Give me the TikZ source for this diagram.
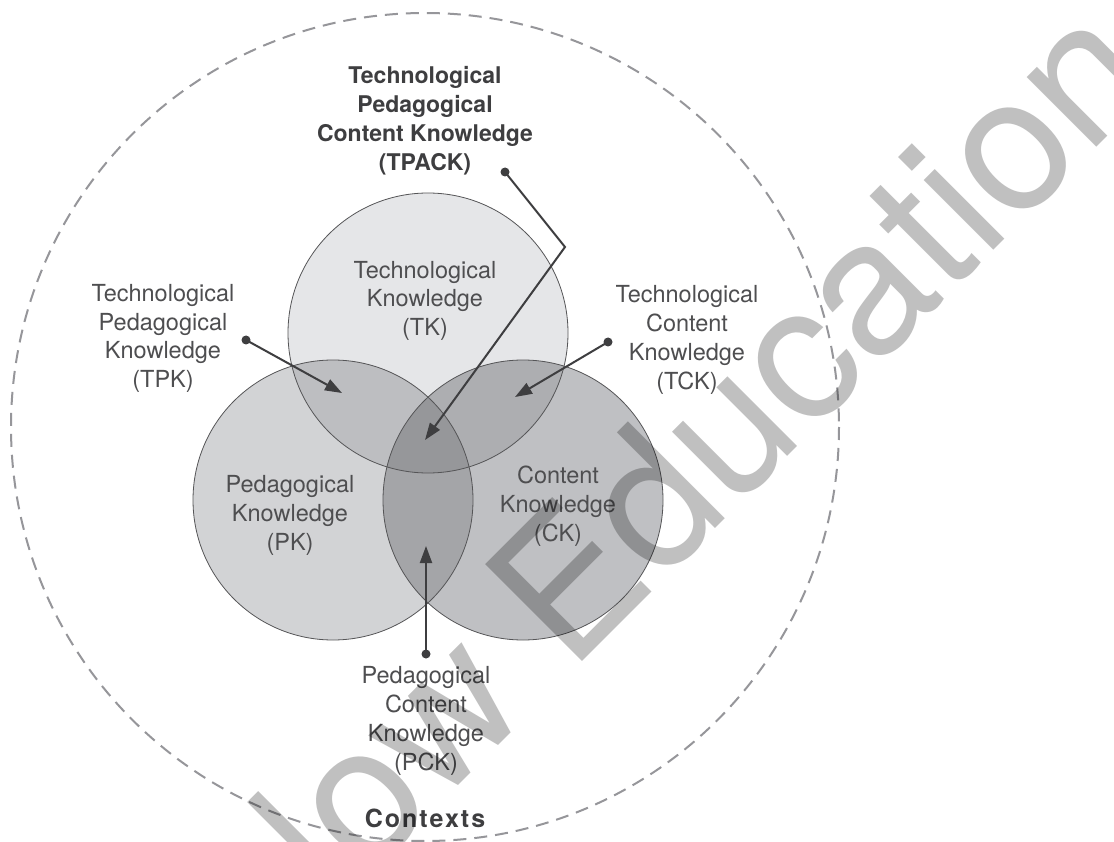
\documentclass[tikz,border=0pt]{standalone}
\usepackage{fontspec}
\setmainfont{TeX Gyre Heros}
\usetikzlibrary{arrows.meta}

% fills of the three circles and their overlaps
\definecolor{tkfill}{RGB}{229,230,232}
\definecolor{pkfill}{RGB}{210,211,213}
\definecolor{ckfill}{RGB}{191,192,195}
\definecolor{tpkfill}{RGB}{189,190,193}
\definecolor{tckfill}{RGB}{173,174,177}
\definecolor{pckfill}{RGB}{164,165,168}
\definecolor{tpackfill}{RGB}{150,151,154}
\definecolor{rimcol}{RGB}{85,85,87}
\definecolor{dashcol}{RGB}{150,150,154}
\definecolor{inkcol}{RGB}{62,62,64}
\definecolor{labelcol}{RGB}{78,78,80}
\definecolor{wmcol}{RGB}{192,192,192}

\begin{document}
\begin{tikzpicture}[x=1pt,y=-1pt,
  % multi-line labels: the anchor sits on the baseline of the last line
  label/.style={align=center, anchor=base, inner sep=0pt, text=labelcol,
                font=\fontsize{23.5}{29}\selectfont},
  titlelabel/.style={label, text=inkcol, font=\bfseries\fontsize{23}{29}\selectfont},
  rim/.style={draw=rimcol, line width=0.8pt},
  pointer/.style={draw=inkcol, line width=2pt,
                  -{Triangle[length=17pt,width=12pt]}},
  dot/.style={fill=inkcol}]
\useasboundingbox (0,0) rectangle (1114,842);
\fill[white] (0,0) rectangle (1114,842);

% centres of the knowledge circles
\coordinate (tkc) at (428,333);
\coordinate (pkc) at (333,500);
\coordinate (ckc) at (523,500);
\def\rad{140}

% contexts boundary
\draw[dashcol, line width=2pt, dash pattern=on 13pt off 8pt]
  (425,427) circle[radius=414];

% base discs
\fill[tkfill] (tkc) circle[radius=\rad];
\fill[pkfill] (pkc) circle[radius=\rad];
\fill[ckfill] (ckc) circle[radius=\rad];
% pairwise overlaps
\begin{scope}
  \clip (tkc) circle[radius=\rad];
  \fill[tpkfill] (pkc) circle[radius=\rad];
\end{scope}
\begin{scope}
  \clip (tkc) circle[radius=\rad];
  \fill[tckfill] (ckc) circle[radius=\rad];
\end{scope}
\begin{scope}
  \clip (pkc) circle[radius=\rad];
  \fill[pckfill] (ckc) circle[radius=\rad];
\end{scope}
% central overlap
\begin{scope}
  \clip (tkc) circle[radius=\rad];
  \clip (pkc) circle[radius=\rad];
  \fill[tpackfill] (ckc) circle[radius=\rad];
\end{scope}
% outlines
\draw[rim] (tkc) circle[radius=\rad];
\draw[rim] (pkc) circle[radius=\rad];
\draw[rim] (ckc) circle[radius=\rad];

% labels
\node[titlelabel] (tpack) at (425,171)
  {Technological\\Pedagogical\\Content Knowledge\\(TPACK)};
\node[label] (tk) at (425,336) {Technological\\Knowledge\\(TK)};
\node[label] (tpk) at (163,388) {Technological\\Pedagogical\\Knowledge\\(TPK)};
\node[label] (tck) at (687,389) {Technological\\Content\\Knowledge\\(TCK)};
\node[label] (pk) at (290,550) {Pedagogical\\Knowledge\\(PK)};
\node[label] (ck) at (558,541) {Content\\Knowledge\\(CK)};
\node[label] (pck) at (426,770) {Pedagogical\\Content\\Knowledge\\(PCK)};
\node[anchor=base, inner sep=0pt, text=inkcol,
      font=\bfseries\fontsize{25}{25}\selectfont\addfontfeature{LetterSpace=8}]
  (ctx) at (425,827) {Contexts};

% pointers: dot at the label end, arrow into the region
\coordinate (tpackdot) at (505,172);
\coordinate (tpackbend) at (565,247);
\coordinate (tpacktip) at (425,440);
\coordinate (tpkdot) at (246,340);
\coordinate (tpktip) at (342,393);
\coordinate (tckdot) at (608,342);
\coordinate (tcktip) at (515,397);
\coordinate (pckdot) at (426,654);
\coordinate (pcktip) at (426,546);

\draw[pointer] (tpackdot) -- (tpackbend) -- (tpacktip);
\draw[pointer] (tpkdot) -- (tpktip);
\draw[pointer] (tckdot) -- (tcktip);
\draw[pointer] (pckdot) -- (pcktip);
\foreach \d in {tpackdot,tpkdot,tckdot,pckdot}
  \fill[dot] (\d) circle[radius=4.5];

% publisher mark across the sheet
\node[anchor=base east, rotate=45, inner sep=0pt, text=wmcol,
      blend mode=multiply, font=\fontsize{188}{188}\selectfont]
  (mark) at (1162,82) {Brownlow Education};
\end{tikzpicture}
\end{document}
